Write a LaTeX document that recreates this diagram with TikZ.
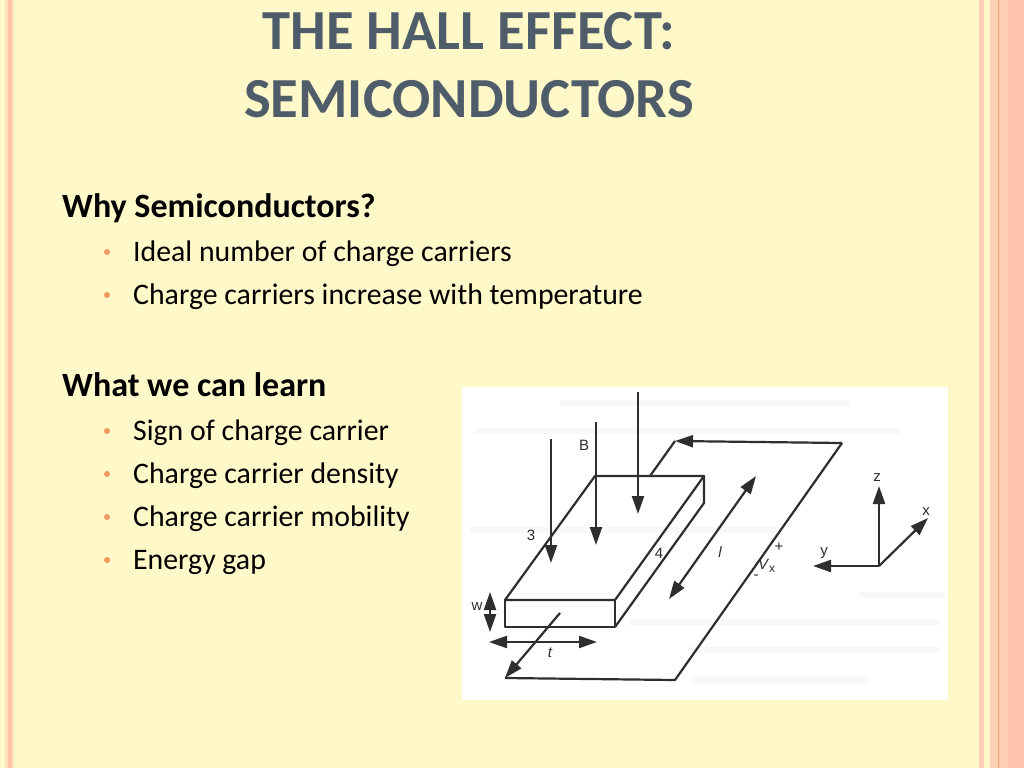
\documentclass[tikz,border=0pt]{standalone}
\usepackage{fontspec}
\setmainfont{Carlito}
\newfontfamily\figfont{Liberation Sans}
\usetikzlibrary{arrows.meta}
\definecolor{bgc}{HTML}{FFF8C8}
\definecolor{stripeA}{HTML}{FBCDB8}
\definecolor{stripeB}{HTML}{FFC4AC}
\definecolor{stripeC}{HTML}{FDE0BC}
\definecolor{stripeD}{HTML}{FFCFB6}
\definecolor{stripeE}{HTML}{E8A070}
\definecolor{titlec}{HTML}{4F5C6A}
\definecolor{bulc}{HTML}{F09A60}
\definecolor{inkc}{HTML}{2E2E2E}
\definecolor{ghost}{HTML}{F8F8F8}
\tikzset{
  band/.style={fill=#1,draw=none},
  ttl/.style={anchor=base,font=\fontsize{56.6}{56.6}\selectfont\bfseries,text=titlec},
  head/.style={anchor=base west,font=\fontsize{34}{34}\selectfont\bfseries,text=black,inner sep=0pt},
  item/.style={anchor=base west,font=\fontsize{29.8}{29.8}\selectfont,text=black,inner sep=0pt},
  bul/.style={circle,fill=bulc,inner sep=0pt,minimum size=6pt},
  wire/.style={draw=inkc,line width=2.2pt,line join=round},
  tip/.style={wire,-{Triangle[length=18pt,width=12pt]}},
  tips/.style={wire,{Triangle[length=18pt,width=12pt]}-{Triangle[length=18pt,width=12pt]}},
  lab/.style={text=inkc,inner sep=0pt,font=\figfont\fontsize{15}{15}\selectfont},
  ghostline/.style={draw=ghost,line width=6pt},
}
\begin{document}
\begin{tikzpicture}[x=1pt,y=-1pt]
\useasboundingbox (0,0) rectangle (1024,768);
\fill[bgc] (0,0) rectangle (1024,768);
% left stripes
\fill[band=stripeC] (5,0) rectangle (8,768);
\fill[band=stripeB] (8,0) rectangle (12,768);
\fill[band=stripeC] (12,0) rectangle (14,768);
% right stripes
\fill[band=stripeA] (979,0) rectangle (984,768);
\fill[band=stripeD] (990,0) rectangle (1024,768);
\fill[band=stripeE] (997.5,0) rectangle (999,768);
\fill[band=stripeB] (1008,0) rectangle (1024,768);
% title
\node[ttl] (t1) at (469,49) {THE HALL EFFECT:};
\node[ttl] (t2) at (469,117) {SEMICONDUCTORS};
% text
\node[head] (h1) at (62,217) {Why Semiconductors?};
\node[item] (i1) at (133,261) {Ideal number of charge carriers};
\node[item] (i2) at (133,304) {Charge carriers increase with temperature};
\node[head] (h2) at (62,396) {What we can learn};
\node[item] (i3) at (133,440) {Sign of charge carrier};
\node[item] (i4) at (133,483) {Charge carrier density};
\node[item] (i5) at (133,526) {Charge carrier mobility};
\node[item] (i6) at (133,569) {Energy gap};
\foreach \n/\y in {b1/252,b2/295,b3/431,b4/474,b5/517,b6/560}
  \node[bul] (\n) at (107,\y) {};
% figure
\fill[white] (462,387) rectangle (948,700);
% faint show-through of the scanned page
\draw[ghostline] (560,403) -- (850,403);
\draw[ghostline] (475,431) -- (900,431);
\draw[ghostline] (470,530) -- (780,530);
\draw[ghostline] (860,595) -- (945,595);
\draw[ghostline] (630,622) -- (940,622);
\draw[ghostline] (690,650) -- (940,650);
\draw[ghostline] (690,680) -- (870,680);
\coordinate (A) at (595,476);
\coordinate (Br) at (704,476);
\coordinate (Brl) at (704,503);
\coordinate (F) at (505,600);
\coordinate (Fr) at (615,600);
\coordinate (Fb) at (505,627);
\coordinate (Frb) at (615,627);
\draw[wire] (A) -- (Br) -- (Fr) -- (F) -- cycle;
\draw[wire] (F) -- (Fb) -- (Frb) -- (Fr);
\draw[wire] (Frb) -- (Brl) -- (Br);
% circuit
\coordinate (w0) at (650,476);
\coordinate (w1) at (675,441);
\coordinate (w2) at (842,443);
\coordinate (w3) at (675,680);
\coordinate (w4) at (505,678);
\coordinate (w5) at (560,613);
\draw[wire] (w0) -- (w1);
\draw[tip] (w2) -- (w1);
\draw[wire] (w2) -- (w3) -- (w4);
\draw[tip] (w5) -- (w4);
% field
\coordinate (b1s) at (551,439); \coordinate (b1e) at (551,563);
\coordinate (b2s) at (596,422); \coordinate (b2e) at (596,545);
\coordinate (b3s) at (638,392); \coordinate (b3e) at (638,514);
\draw[tip] (b1s) -- (b1e);
\draw[tip] (b2s) -- (b2e);
\draw[tip] (b3s) -- (b3e);
% dimensions
\coordinate (l1) at (756,476); \coordinate (l2) at (669,599);
\draw[tips] (l1) -- (l2);
\coordinate (w1a) at (490,592); \coordinate (w1b) at (490,632);
\draw[tips] (w1a) -- (w1b);
\coordinate (t1a) at (489,642); \coordinate (t1b) at (597,642);
\draw[tips] (t1a) -- (t1b);
% axes
\coordinate (O) at (879,566);
\coordinate (zz) at (879,486);
\coordinate (xx) at (928,518);
\coordinate (yy) at (813,566);
\draw[tip] (O) -- (zz);
\draw[tip] (O) -- (xx);
\draw[tip] (O) -- (yy);
% labels
\node[lab] (l3) at (531,535) {3};
\node[lab] (lB) at (584,445) {B};
\node[lab] (l4) at (659,553) {4};
\node[lab] (ll) at (720,552) {\itshape l};
\node[lab] (lp) at (779,547) {+};
\node[lab] (lV) at (763,564) {\itshape V};
\node[lab] (lx) at (772,569) {\fontsize{12}{12}\selectfont x};
\node[lab] (lm) at (756,577) {-};
\node[lab] (lz) at (877,478) {z};
\node[lab] (lxx) at (926,512) {x};
\node[lab] (ly) at (824,553) {y};
\node[lab] (lw) at (477,607) {w};
\node[lab] (lt) at (550,653) {\itshape t};
\end{tikzpicture}
\end{document}
